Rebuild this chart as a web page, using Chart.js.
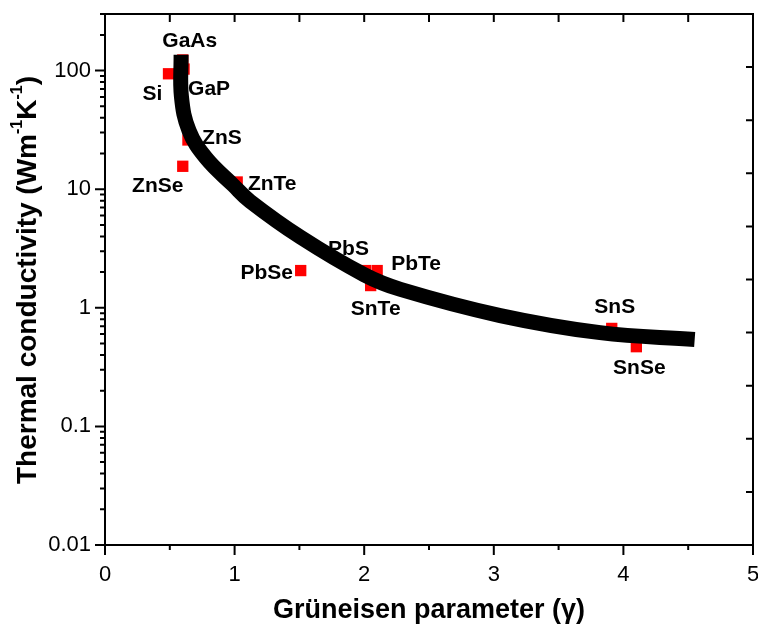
<!DOCTYPE html>
<html>
<head>
<meta charset="utf-8">
<script src="https://cdn.jsdelivr.net/npm/chart.js@4.4.1/dist/chart.umd.min.js"></script>
<style>
  html, body { margin: 0; padding: 0; background: #fff; overflow: hidden; }
  #wrap { width: 761px; height: 630px; }
</style>
</head>
<body>
<div id="wrap"><canvas id="chart1"></canvas></div>
<script>
// measured compounds
const compounds = ['GaAs', 'GaP', 'Si', 'ZnS', 'ZnSe', 'ZnTe', 'PbSe', 'PbS', 'PbTe', 'SnTe', 'SnS', 'SnSe'];
const gruneisen = [0.60, 0.61, 0.49, 0.64, 0.60, 1.02, 1.51, 2.01, 2.10, 2.05, 3.91, 4.10];
const kappa = [123, 103, 94, 26, 15.6, 11.5, 2.06, 2.06, 2.06, 1.54, 0.67, 0.47];

// guide curve
const curveX = [0.587, 0.59, 0.649, 0.78, 0.99, 1.12, 1.51, 2.0, 2.28, 3.05, 3.82, 4.55];
const curveY = [136, 60, 31, 18.3, 10.8, 7.9, 3.93, 1.9, 1.43, 0.86, 0.617, 0.54];

const xTickLabels = [0, 1, 2, 3, 4, 5];
const yTickLabels = [0.01, 0.1, 1, 10, 100];

// label placement next to each square (px)
const labelOffsets = [[7, -19], [25, 20], [-16, 20], [34, -2], [-25, 20], [35, 2],
                      [-34, 3], [-17, -21], [39, -6], [5, 24], [3, -21], [3, 22]];

const pointLabels = {
    id: 'pointLabels',
    afterDatasetsDraw(chart) {
        const ctx = chart.ctx;
        const meta = chart.getDatasetMeta(1);
        ctx.save();
        ctx.font = 'bold 21px "Liberation Sans", Arial, sans-serif';
        ctx.fillStyle = '#000';
        ctx.textAlign = 'center';
        ctx.textBaseline = 'middle';
        meta.data.forEach((pt, i) => {
            ctx.fillText(compounds[i], pt.x + labelOffsets[i][0], pt.y + labelOffsets[i][1]);
        });
        ctx.restore();
    }
};

const frameTicks = {
    id: 'frameTicks',
    afterDraw(chart) {
        const { ctx, chartArea: a, scales } = chart;
        ctx.save();
        ctx.strokeStyle = '#000';
        ctx.lineWidth = 2;
        ctx.strokeRect(a.left, a.top, a.right - a.left, a.bottom - a.top);
        ctx.beginPath();
        // bottom (outward) and top (inward)
        scales.x.ticks.forEach(t => {
            const px = scales.x.getPixelForValue(t.value);
            const major = Number.isInteger(t.value);
            ctx.moveTo(px, a.bottom);
            ctx.lineTo(px, a.bottom + (major ? 10 : 5));
            ctx.moveTo(px, a.top);
            ctx.lineTo(px, a.top + 8);
        });
        // left (outward)
        scales.y.ticks.forEach(t => {
            const py = scales.y.getPixelForValue(t.value);
            const major = yTickLabels.includes(t.value);
            ctx.moveTo(a.left, py);
            ctx.lineTo(a.left - (major ? 10 : 5), py);
        });
        // right (inward)
        scales.y2.ticks.forEach(t => {
            const py = scales.y2.getPixelForValue(t.value);
            ctx.moveTo(a.right, py);
            ctx.lineTo(a.right - 7, py);
        });
        ctx.stroke();

        // x tick labels
        ctx.fillStyle = '#000';
        ctx.font = '22px "Liberation Sans", Arial, sans-serif';
        ctx.textAlign = 'center';
        ctx.textBaseline = 'middle';
        scales.x.ticks.forEach(t => {
            if (xTickLabels.includes(t.value)) {
                ctx.fillText(String(t.value), scales.x.getPixelForValue(t.value), a.bottom + 30);
            }
        });

        // y axis title with superscripts
        const big = 'bold 28px "Liberation Sans", Arial, sans-serif';
        const small = 'bold 16px "Liberation Sans", Arial, sans-serif';
        const parts = [['Thermal conductivity (Wm', big, 0], ['-1', small, -10], ['K', big, 0], ['-1', small, -10], [')', big, 0]];
        let total = 0;
        parts.forEach(p => { ctx.font = p[1]; total += ctx.measureText(p[0]).width; });
        ctx.translate(28, 280);
        ctx.rotate(-Math.PI / 2);
        ctx.textAlign = 'left';
        let cx = -total / 2;
        parts.forEach(p => {
            ctx.font = p[1];
            ctx.fillText(p[0], cx, p[2]);
            cx += ctx.measureText(p[0]).width;
        });
        ctx.restore();
    }
};

new Chart(document.getElementById('chart1'), {
    data: {
        datasets: [{
            type: 'line',
            data: curveX.map((x, i) => ({ x: x, y: curveY[i] })),
            borderColor: '#000',
            borderWidth: 15,
            borderCapStyle: 'butt',
            pointRadius: 0,
            tension: 0.4,
            fill: false,
            order: 0
        }, {
            type: 'scatter',
            data: gruneisen.map((x, i) => ({ x: x, y: kappa[i] })),
            pointStyle: 'rect',
            pointRadius: 8,
            backgroundColor: '#ff0000',
            borderWidth: 0,
            order: 1
        }]
    },
    options: {
        responsive: true,
        maintainAspectRatio: false,
        animation: false,
        layout: { padding: { top: 14, right: 5, left: 0, bottom: 0 } },
        plugins: {
            legend: { display: false },
            tooltip: { enabled: false }
        },
        scales: {
            x: {
                type: 'linear',
                min: 0, max: 5,
                ticks: { stepSize: 0.5, display: false },
                grid: { display: false, drawTicks: false },
                border: { display: false },
                title: {
                    display: true,
                    text: 'Grüneisen parameter (γ)',
                    color: '#000',
                    font: { family: '"Liberation Sans", Arial, sans-serif', size: 27, weight: 'bold' },
                    padding: { top: 0, bottom: 3 }
                },
                afterFit: s => { s.height = 85; }
            },
            y: {
                type: 'logarithmic',
                min: 0.01, max: 300,
                afterBuildTicks: s => {
                    const t = [];
                    for (let e = -2; e <= 2; e++) {
                        for (let m = 1; m <= 9; m++) {
                            const v = Number((m * Math.pow(10, e)).toPrecision(3));
                            if (v >= 0.01 && v <= 300) t.push({ value: v });
                        }
                    }
                    s.ticks = t;
                },
                ticks: {
                    autoSkip: false,
                    padding: 14,
                    color: '#000',
                    font: { family: '"Liberation Sans", Arial, sans-serif', size: 22 },
                    callback: v => yTickLabels.includes(v) ? String(v) : ''
                },
                grid: { display: false, drawTicks: false },
                border: { display: false },
                afterFit: s => { s.width = 105; s.paddingTop = 0; s.paddingBottom = 0; }
            },
            y2: {
                type: 'linear',
                position: 'right',
                min: 0, max: 10,
                display: false,
                ticks: { stepSize: 1 },
                afterFit: s => { s.width = 0; }
            }
        }
    },
    plugins: [pointLabels, frameTicks]
});
</script>
</body>
</html>
